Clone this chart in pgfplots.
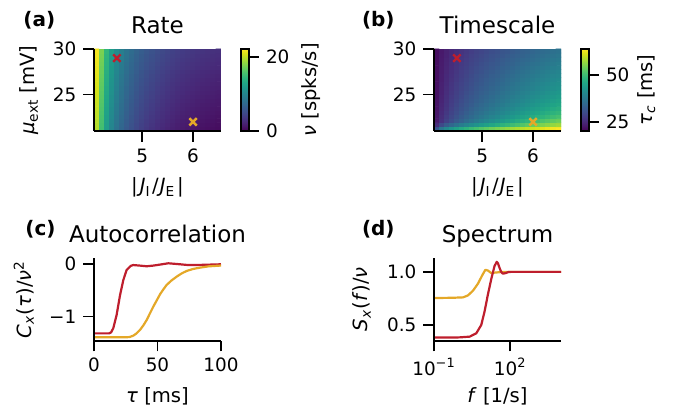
\documentclass[border=0pt]{standalone}
\usepackage{fontspec}
\setmainfont{DejaVu Sans}
\usepackage{pgfplots}
\pgfplotsset{compat=1.18}
\definecolor{cred}{RGB}{190,30,45}
\definecolor{cgold}{RGB}{228,168,40}
\newcommand\tickfont{\fontsize{9.2bp}{11bp}\selectfont}
\newcommand\labfont{\fontsize{9.8bp}{12bp}\selectfont}
\newcommand\titfont{\fontsize{11.5bp}{14bp}\selectfont}
\newcommand\jratio{|\hspace{0.1em}\textit{J}\textsubscript{I}\hspace{0.08em}/\hspace{0.05em}\textit{J}\textsubscript{E}\hspace{0.1em}|}
\pgfplotsset{
  /pgf/number format/assume math mode=true,
  panel/.style={
    scale only axis, width=63.5bp, height=41bp,
    axis x line*=bottom, axis y line*=left,
    axis line style={-, line width=0.8bp},
    every tick/.style={black, line width=0.8bp},
    tick align=outside, major tick length=5.3bp,
    tick label style={font=\tickfont},
    every axis title/.style={font=\titfont, at={(0.5,1)}, anchor=base, yshift=7.7bp},
    every axis x label/.style={font=\labfont, at={(axis description cs:0.5,0)}, anchor=base, yshift=-31bp},
    axis on top,
  },
  ylab/.style={every axis y label/.style={font=\labfont, at={(axis description cs:#1,0.5)}, rotate=90, anchor=base}},
  cbar/.style={
    colorbar shift/.style={},
    colorbar style={
      at={(parent axis.north east)}, anchor=north west, xshift=10bp,
      scale only axis, width=4bp, height=41bp,
      axis line style={line width=0.65bp},
      ytick pos=right, yticklabel pos=right,
      tick align=outside, major tick length=5bp,
      every tick/.style={black, line width=0.8bp},
      tick label style={font=\tickfont},
      #1
    },
  },
}
\begin{document}
\begin{tikzpicture}
\useasboundingbox (0,0) rectangle (337.5bp,205.5bp);

% (a) rate heatmap
\begin{axis}[panel, at={(47bp,140bp)}, anchor=south west,
  xmin=4.05, xmax=6.55, ymin=21, ymax=30,
  xtick={5,6}, ytick={25,30},
  title={Rate},
  xlabel={\jratio},
  ylabel={\textit{μ}\textsubscript{ext} [mV]}, ylab=-0.465,
  colormap/viridis, point meta min=0, point meta max=22.2,
  colorbar, cbar={ytick={0,20}, ylabel={\textit{ν} [spks/s]}, ylab=9.4},
]
\addplot[matrix plot*, mesh/cols=25, point meta=explicit] table[row sep=\\, meta index=2]{
4.1 21.23 19.66\\4.2 21.23 15.46\\4.3 21.23 12.26\\4.4 21.23 10.06\\4.5 21.23 8.46\\4.6 21.23 7.26\\4.7 21.23 6.26\\4.8 21.23 5.46\\4.9 21.23 4.76\\5.0 21.23 4.16\\5.1 21.23 3.66\\5.2 21.23 3.26\\5.3 21.23 2.86\\5.4 21.23 2.56\\5.5 21.23 2.26\\5.6 21.23 2.01\\5.7 21.23 1.76\\5.8 21.23 1.56\\5.9 21.23 1.41\\6.0 21.23 1.26\\6.1 21.23 1.11\\6.2 21.23 1.01\\6.3 21.23 0.91\\6.4 21.23 0.81\\6.5 21.23 0.71\\
4.1 21.68 19.78\\4.2 21.68 15.58\\4.3 21.68 12.38\\4.4 21.68 10.18\\4.5 21.68 8.58\\4.6 21.68 7.38\\4.7 21.68 6.38\\4.8 21.68 5.58\\4.9 21.68 4.88\\5.0 21.68 4.28\\5.1 21.68 3.78\\5.2 21.68 3.38\\5.3 21.68 2.98\\5.4 21.68 2.68\\5.5 21.68 2.38\\5.6 21.68 2.13\\5.7 21.68 1.88\\5.8 21.68 1.68\\5.9 21.68 1.53\\6.0 21.68 1.38\\6.1 21.68 1.23\\6.2 21.68 1.13\\6.3 21.68 1.03\\6.4 21.68 0.93\\6.5 21.68 0.83\\
4.1 22.13 19.90\\4.2 22.13 15.70\\4.3 22.13 12.50\\4.4 22.13 10.30\\4.5 22.13 8.70\\4.6 22.13 7.50\\4.7 22.13 6.50\\4.8 22.13 5.70\\4.9 22.13 5.00\\5.0 22.13 4.40\\5.1 22.13 3.90\\5.2 22.13 3.50\\5.3 22.13 3.10\\5.4 22.13 2.80\\5.5 22.13 2.50\\5.6 22.13 2.25\\5.7 22.13 2.00\\5.8 22.13 1.80\\5.9 22.13 1.65\\6.0 22.13 1.50\\6.1 22.13 1.35\\6.2 22.13 1.25\\6.3 22.13 1.15\\6.4 22.13 1.05\\6.5 22.13 0.95\\
4.1 22.58 20.02\\4.2 22.58 15.82\\4.3 22.58 12.62\\4.4 22.58 10.42\\4.5 22.58 8.82\\4.6 22.58 7.62\\4.7 22.58 6.62\\4.8 22.58 5.82\\4.9 22.58 5.12\\5.0 22.58 4.52\\5.1 22.58 4.02\\5.2 22.58 3.62\\5.3 22.58 3.22\\5.4 22.58 2.92\\5.5 22.58 2.62\\5.6 22.58 2.37\\5.7 22.58 2.12\\5.8 22.58 1.92\\5.9 22.58 1.77\\6.0 22.58 1.62\\6.1 22.58 1.47\\6.2 22.58 1.37\\6.3 22.58 1.27\\6.4 22.58 1.17\\6.5 22.58 1.07\\
4.1 23.03 20.14\\4.2 23.03 15.94\\4.3 23.03 12.74\\4.4 23.03 10.54\\4.5 23.03 8.94\\4.6 23.03 7.74\\4.7 23.03 6.74\\4.8 23.03 5.94\\4.9 23.03 5.24\\5.0 23.03 4.64\\5.1 23.03 4.14\\5.2 23.03 3.74\\5.3 23.03 3.34\\5.4 23.03 3.04\\5.5 23.03 2.74\\5.6 23.03 2.49\\5.7 23.03 2.24\\5.8 23.03 2.04\\5.9 23.03 1.89\\6.0 23.03 1.74\\6.1 23.03 1.59\\6.2 23.03 1.49\\6.3 23.03 1.39\\6.4 23.03 1.29\\6.5 23.03 1.19\\
4.1 23.48 20.26\\4.2 23.48 16.06\\4.3 23.48 12.86\\4.4 23.48 10.66\\4.5 23.48 9.06\\4.6 23.48 7.86\\4.7 23.48 6.86\\4.8 23.48 6.06\\4.9 23.48 5.36\\5.0 23.48 4.76\\5.1 23.48 4.26\\5.2 23.48 3.86\\5.3 23.48 3.46\\5.4 23.48 3.16\\5.5 23.48 2.86\\5.6 23.48 2.61\\5.7 23.48 2.36\\5.8 23.48 2.16\\5.9 23.48 2.01\\6.0 23.48 1.86\\6.1 23.48 1.71\\6.2 23.48 1.61\\6.3 23.48 1.51\\6.4 23.48 1.41\\6.5 23.48 1.31\\
4.1 23.93 20.38\\4.2 23.93 16.18\\4.3 23.93 12.98\\4.4 23.93 10.78\\4.5 23.93 9.18\\4.6 23.93 7.98\\4.7 23.93 6.98\\4.8 23.93 6.18\\4.9 23.93 5.48\\5.0 23.93 4.88\\5.1 23.93 4.38\\5.2 23.93 3.98\\5.3 23.93 3.58\\5.4 23.93 3.28\\5.5 23.93 2.98\\5.6 23.93 2.73\\5.7 23.93 2.48\\5.8 23.93 2.28\\5.9 23.93 2.13\\6.0 23.93 1.98\\6.1 23.93 1.83\\6.2 23.93 1.73\\6.3 23.93 1.63\\6.4 23.93 1.53\\6.5 23.93 1.43\\
4.1 24.38 20.50\\4.2 24.38 16.30\\4.3 24.38 13.10\\4.4 24.38 10.90\\4.5 24.38 9.30\\4.6 24.38 8.10\\4.7 24.38 7.10\\4.8 24.38 6.30\\4.9 24.38 5.60\\5.0 24.38 5.00\\5.1 24.38 4.50\\5.2 24.38 4.10\\5.3 24.38 3.70\\5.4 24.38 3.40\\5.5 24.38 3.10\\5.6 24.38 2.85\\5.7 24.38 2.60\\5.8 24.38 2.40\\5.9 24.38 2.25\\6.0 24.38 2.10\\6.1 24.38 1.95\\6.2 24.38 1.85\\6.3 24.38 1.75\\6.4 24.38 1.65\\6.5 24.38 1.55\\
4.1 24.83 20.62\\4.2 24.83 16.42\\4.3 24.83 13.22\\4.4 24.83 11.02\\4.5 24.83 9.42\\4.6 24.83 8.22\\4.7 24.83 7.22\\4.8 24.83 6.42\\4.9 24.83 5.72\\5.0 24.83 5.12\\5.1 24.83 4.62\\5.2 24.83 4.22\\5.3 24.83 3.82\\5.4 24.83 3.52\\5.5 24.83 3.22\\5.6 24.83 2.97\\5.7 24.83 2.72\\5.8 24.83 2.52\\5.9 24.83 2.37\\6.0 24.83 2.22\\6.1 24.83 2.07\\6.2 24.83 1.97\\6.3 24.83 1.87\\6.4 24.83 1.77\\6.5 24.83 1.67\\
4.1 25.28 20.74\\4.2 25.28 16.54\\4.3 25.28 13.34\\4.4 25.28 11.14\\4.5 25.28 9.54\\4.6 25.28 8.34\\4.7 25.28 7.34\\4.8 25.28 6.54\\4.9 25.28 5.84\\5.0 25.28 5.24\\5.1 25.28 4.74\\5.2 25.28 4.34\\5.3 25.28 3.94\\5.4 25.28 3.64\\5.5 25.28 3.34\\5.6 25.28 3.09\\5.7 25.28 2.84\\5.8 25.28 2.64\\5.9 25.28 2.49\\6.0 25.28 2.34\\6.1 25.28 2.19\\6.2 25.28 2.09\\6.3 25.28 1.99\\6.4 25.28 1.89\\6.5 25.28 1.79\\
4.1 25.73 20.86\\4.2 25.73 16.66\\4.3 25.73 13.46\\4.4 25.73 11.26\\4.5 25.73 9.66\\4.6 25.73 8.46\\4.7 25.73 7.46\\4.8 25.73 6.66\\4.9 25.73 5.96\\5.0 25.73 5.36\\5.1 25.73 4.86\\5.2 25.73 4.46\\5.3 25.73 4.06\\5.4 25.73 3.76\\5.5 25.73 3.46\\5.6 25.73 3.21\\5.7 25.73 2.96\\5.8 25.73 2.76\\5.9 25.73 2.61\\6.0 25.73 2.46\\6.1 25.73 2.31\\6.2 25.73 2.21\\6.3 25.73 2.11\\6.4 25.73 2.01\\6.5 25.73 1.91\\
4.1 26.18 20.98\\4.2 26.18 16.78\\4.3 26.18 13.58\\4.4 26.18 11.38\\4.5 26.18 9.78\\4.6 26.18 8.58\\4.7 26.18 7.58\\4.8 26.18 6.78\\4.9 26.18 6.08\\5.0 26.18 5.48\\5.1 26.18 4.98\\5.2 26.18 4.58\\5.3 26.18 4.18\\5.4 26.18 3.88\\5.5 26.18 3.58\\5.6 26.18 3.33\\5.7 26.18 3.08\\5.8 26.18 2.88\\5.9 26.18 2.73\\6.0 26.18 2.58\\6.1 26.18 2.43\\6.2 26.18 2.33\\6.3 26.18 2.23\\6.4 26.18 2.13\\6.5 26.18 2.03\\
4.1 26.63 21.10\\4.2 26.63 16.90\\4.3 26.63 13.70\\4.4 26.63 11.50\\4.5 26.63 9.90\\4.6 26.63 8.70\\4.7 26.63 7.70\\4.8 26.63 6.90\\4.9 26.63 6.20\\5.0 26.63 5.60\\5.1 26.63 5.10\\5.2 26.63 4.70\\5.3 26.63 4.30\\5.4 26.63 4.00\\5.5 26.63 3.70\\5.6 26.63 3.45\\5.7 26.63 3.20\\5.8 26.63 3.00\\5.9 26.63 2.85\\6.0 26.63 2.70\\6.1 26.63 2.55\\6.2 26.63 2.45\\6.3 26.63 2.35\\6.4 26.63 2.25\\6.5 26.63 2.15\\
4.1 27.08 21.22\\4.2 27.08 17.02\\4.3 27.08 13.82\\4.4 27.08 11.62\\4.5 27.08 10.02\\4.6 27.08 8.82\\4.7 27.08 7.82\\4.8 27.08 7.02\\4.9 27.08 6.32\\5.0 27.08 5.72\\5.1 27.08 5.22\\5.2 27.08 4.82\\5.3 27.08 4.42\\5.4 27.08 4.12\\5.5 27.08 3.82\\5.6 27.08 3.57\\5.7 27.08 3.32\\5.8 27.08 3.12\\5.9 27.08 2.97\\6.0 27.08 2.82\\6.1 27.08 2.67\\6.2 27.08 2.57\\6.3 27.08 2.47\\6.4 27.08 2.37\\6.5 27.08 2.27\\
4.1 27.53 21.34\\4.2 27.53 17.14\\4.3 27.53 13.94\\4.4 27.53 11.74\\4.5 27.53 10.14\\4.6 27.53 8.94\\4.7 27.53 7.94\\4.8 27.53 7.14\\4.9 27.53 6.44\\5.0 27.53 5.84\\5.1 27.53 5.34\\5.2 27.53 4.94\\5.3 27.53 4.54\\5.4 27.53 4.24\\5.5 27.53 3.94\\5.6 27.53 3.69\\5.7 27.53 3.44\\5.8 27.53 3.24\\5.9 27.53 3.09\\6.0 27.53 2.94\\6.1 27.53 2.79\\6.2 27.53 2.69\\6.3 27.53 2.59\\6.4 27.53 2.49\\6.5 27.53 2.39\\
4.1 27.98 21.46\\4.2 27.98 17.26\\4.3 27.98 14.06\\4.4 27.98 11.86\\4.5 27.98 10.26\\4.6 27.98 9.06\\4.7 27.98 8.06\\4.8 27.98 7.26\\4.9 27.98 6.56\\5.0 27.98 5.96\\5.1 27.98 5.46\\5.2 27.98 5.06\\5.3 27.98 4.66\\5.4 27.98 4.36\\5.5 27.98 4.06\\5.6 27.98 3.81\\5.7 27.98 3.56\\5.8 27.98 3.36\\5.9 27.98 3.21\\6.0 27.98 3.06\\6.1 27.98 2.91\\6.2 27.98 2.81\\6.3 27.98 2.71\\6.4 27.98 2.61\\6.5 27.98 2.51\\
4.1 28.43 21.58\\4.2 28.43 17.38\\4.3 28.43 14.18\\4.4 28.43 11.98\\4.5 28.43 10.38\\4.6 28.43 9.18\\4.7 28.43 8.18\\4.8 28.43 7.38\\4.9 28.43 6.68\\5.0 28.43 6.08\\5.1 28.43 5.58\\5.2 28.43 5.18\\5.3 28.43 4.78\\5.4 28.43 4.48\\5.5 28.43 4.18\\5.6 28.43 3.93\\5.7 28.43 3.68\\5.8 28.43 3.48\\5.9 28.43 3.33\\6.0 28.43 3.18\\6.1 28.43 3.03\\6.2 28.43 2.93\\6.3 28.43 2.83\\6.4 28.43 2.73\\6.5 28.43 2.63\\
4.1 28.88 21.70\\4.2 28.88 17.50\\4.3 28.88 14.30\\4.4 28.88 12.10\\4.5 28.88 10.50\\4.6 28.88 9.30\\4.7 28.88 8.30\\4.8 28.88 7.50\\4.9 28.88 6.80\\5.0 28.88 6.20\\5.1 28.88 5.70\\5.2 28.88 5.30\\5.3 28.88 4.90\\5.4 28.88 4.60\\5.5 28.88 4.30\\5.6 28.88 4.05\\5.7 28.88 3.80\\5.8 28.88 3.60\\5.9 28.88 3.45\\6.0 28.88 3.30\\6.1 28.88 3.15\\6.2 28.88 3.05\\6.3 28.88 2.95\\6.4 28.88 2.85\\6.5 28.88 2.75\\
4.1 29.33 21.82\\4.2 29.33 17.62\\4.3 29.33 14.42\\4.4 29.33 12.22\\4.5 29.33 10.62\\4.6 29.33 9.42\\4.7 29.33 8.42\\4.8 29.33 7.62\\4.9 29.33 6.92\\5.0 29.33 6.32\\5.1 29.33 5.82\\5.2 29.33 5.42\\5.3 29.33 5.02\\5.4 29.33 4.72\\5.5 29.33 4.42\\5.6 29.33 4.17\\5.7 29.33 3.92\\5.8 29.33 3.72\\5.9 29.33 3.57\\6.0 29.33 3.42\\6.1 29.33 3.27\\6.2 29.33 3.17\\6.3 29.33 3.07\\6.4 29.33 2.97\\6.5 29.33 2.87\\
4.1 29.78 21.94\\4.2 29.78 17.74\\4.3 29.78 14.54\\4.4 29.78 12.34\\4.5 29.78 10.74\\4.6 29.78 9.54\\4.7 29.78 8.54\\4.8 29.78 7.74\\4.9 29.78 7.04\\5.0 29.78 6.44\\5.1 29.78 5.94\\5.2 29.78 5.54\\5.3 29.78 5.14\\5.4 29.78 4.84\\5.5 29.78 4.54\\5.6 29.78 4.29\\5.7 29.78 4.04\\5.8 29.78 3.84\\5.9 29.78 3.69\\6.0 29.78 3.54\\6.1 29.78 3.39\\6.2 29.78 3.29\\6.3 29.78 3.19\\6.4 29.78 3.09\\6.5 29.78 2.99\\
};
\addplot[only marks, mark=x, mark size=2.6bp, line width=1.2bp, draw=cred] coordinates {(4.5,29)};
\addplot[only marks, mark=x, mark size=2.6bp, line width=1.2bp, draw=cgold] coordinates {(6,22)};
\end{axis}

% (b) timescale heatmap
\begin{axis}[panel, at={(217bp,140bp)}, anchor=south west,
  xmin=4.05, xmax=6.55, ymin=21, ymax=30,
  xtick={5,6}, ytick={25,30},
  title={Timescale},
  xlabel={\jratio},
  colormap/viridis, point meta min=20.2, point meta max=63.8,
  colorbar, cbar={ytick={25,50}, ylabel={\textit{τ}\textsubscript{\textit{c}} [ms]}, ylab=8.9},
]
\addplot[matrix plot*, mesh/cols=25, point meta=explicit] table[row sep=\\, meta index=2]{
4.1 21.23 32.1\\4.2 21.23 37.4\\4.3 21.23 40.6\\4.4 21.23 43.0\\4.5 21.23 45.0\\4.6 21.23 46.7\\4.7 21.23 48.2\\4.8 21.23 49.6\\4.9 21.23 50.8\\5.0 21.23 52.0\\5.1 21.23 53.0\\5.2 21.23 54.1\\5.3 21.23 55.0\\5.4 21.23 55.9\\5.5 21.23 56.7\\5.6 21.23 57.6\\5.7 21.23 58.4\\5.8 21.23 59.1\\5.9 21.23 59.9\\6.0 21.23 60.5\\6.1 21.23 61.2\\6.2 21.23 61.8\\6.3 21.23 62.5\\6.4 21.23 63.1\\6.5 21.23 63.7\\
4.1 21.68 25.8\\4.2 21.68 29.8\\4.3 21.68 32.5\\4.4 21.68 34.7\\4.5 21.68 36.6\\4.6 21.68 38.3\\4.7 21.68 39.8\\4.8 21.68 41.2\\4.9 21.68 42.6\\5.0 21.68 43.8\\5.1 21.68 44.9\\5.2 21.68 46.1\\5.3 21.68 47.1\\5.4 21.68 48.2\\5.5 21.68 49.1\\5.6 21.68 50.1\\5.7 21.68 51.0\\5.8 21.68 51.9\\5.9 21.68 52.8\\6.0 21.68 53.6\\6.1 21.68 54.4\\6.2 21.68 55.2\\6.3 21.68 56.0\\6.4 21.68 56.7\\6.5 21.68 57.5\\
4.1 22.13 23.3\\4.2 22.13 26.3\\4.3 22.13 28.6\\4.4 22.13 30.5\\4.5 22.13 32.2\\4.6 22.13 33.8\\4.7 22.13 35.3\\4.8 22.13 36.7\\4.9 22.13 38.0\\5.0 22.13 39.2\\5.1 22.13 40.4\\5.2 22.13 41.5\\5.3 22.13 42.6\\5.4 22.13 43.7\\5.5 22.13 44.7\\5.6 22.13 45.7\\5.7 22.13 46.8\\5.8 22.13 47.7\\5.9 22.13 48.6\\6.0 22.13 49.6\\6.1 22.13 50.5\\6.2 22.13 51.4\\6.3 22.13 52.2\\6.4 22.13 53.1\\6.5 22.13 53.9\\
4.1 22.58 23.0\\4.2 22.58 25.8\\4.3 22.58 27.8\\4.4 22.58 29.6\\4.5 22.58 31.1\\4.6 22.58 32.6\\4.7 22.58 33.9\\4.8 22.58 35.2\\4.9 22.58 36.4\\5.0 22.58 37.5\\5.1 22.58 38.5\\5.2 22.58 39.6\\5.3 22.58 40.6\\5.4 22.58 41.6\\5.5 22.58 42.5\\5.6 22.58 43.4\\5.7 22.58 44.4\\5.8 22.58 45.2\\5.9 22.58 46.1\\6.0 22.58 46.9\\6.1 22.58 47.8\\6.2 22.58 48.5\\6.3 22.58 49.3\\6.4 22.58 50.1\\6.5 22.58 50.9\\
4.1 23.03 22.8\\4.2 23.03 25.4\\4.3 23.03 27.3\\4.4 23.03 29.0\\4.5 23.03 30.4\\4.6 23.03 31.8\\4.7 23.03 33.0\\4.8 23.03 34.2\\4.9 23.03 35.4\\5.0 23.03 36.4\\5.1 23.03 37.4\\5.2 23.03 38.4\\5.3 23.03 39.3\\5.4 23.03 40.2\\5.5 23.03 41.1\\5.6 23.03 41.9\\5.7 23.03 42.8\\5.8 23.03 43.6\\5.9 23.03 44.4\\6.0 23.03 45.2\\6.1 23.03 46.0\\6.2 23.03 46.7\\6.3 23.03 47.5\\6.4 23.03 48.2\\6.5 23.03 48.9\\
4.1 23.48 22.6\\4.2 23.48 25.1\\4.3 23.48 26.9\\4.4 23.48 28.5\\4.5 23.48 29.9\\4.6 23.48 31.2\\4.7 23.48 32.3\\4.8 23.48 33.5\\4.9 23.48 34.6\\5.0 23.48 35.5\\5.1 23.48 36.4\\5.2 23.48 37.4\\5.3 23.48 38.3\\5.4 23.48 39.2\\5.5 23.48 40.0\\5.6 23.48 40.8\\5.7 23.48 41.6\\5.8 23.48 42.4\\5.9 23.48 43.1\\6.0 23.48 43.9\\6.1 23.48 44.6\\6.2 23.48 45.3\\6.3 23.48 46.0\\6.4 23.48 46.7\\6.5 23.48 47.4\\
4.1 23.93 22.5\\4.2 23.93 24.9\\4.3 23.93 26.6\\4.4 23.93 28.1\\4.5 23.93 29.4\\4.6 23.93 30.6\\4.7 23.93 31.8\\4.8 23.93 32.8\\4.9 23.93 33.9\\5.0 23.93 34.8\\5.1 23.93 35.7\\5.2 23.93 36.6\\5.3 23.93 37.4\\5.4 23.93 38.2\\5.5 23.93 39.0\\5.6 23.93 39.8\\5.7 23.93 40.6\\5.8 23.93 41.3\\5.9 23.93 42.0\\6.0 23.93 42.7\\6.1 23.93 43.5\\6.2 23.93 44.1\\6.3 23.93 44.8\\6.4 23.93 45.4\\6.5 23.93 46.1\\
4.1 24.38 22.4\\4.2 24.38 24.7\\4.3 24.38 26.3\\4.4 24.38 27.8\\4.5 24.38 29.0\\4.6 24.38 30.2\\4.7 24.38 31.3\\4.8 24.38 32.3\\4.9 24.38 33.3\\5.0 24.38 34.1\\5.1 24.38 35.0\\5.2 24.38 35.9\\5.3 24.38 36.7\\5.4 24.38 37.5\\5.5 24.38 38.2\\5.6 24.38 39.0\\5.7 24.38 39.7\\5.8 24.38 40.4\\5.9 24.38 41.1\\6.0 24.38 41.8\\6.1 24.38 42.5\\6.2 24.38 43.1\\6.3 24.38 43.7\\6.4 24.38 44.4\\6.5 24.38 45.0\\
4.1 24.83 22.3\\4.2 24.83 24.5\\4.3 24.83 26.1\\4.4 24.83 27.5\\4.5 24.83 28.7\\4.6 24.83 29.8\\4.7 24.83 30.9\\4.8 24.83 31.9\\4.9 24.83 32.8\\5.0 24.83 33.7\\5.1 24.83 34.5\\5.2 24.83 35.3\\5.3 24.83 36.1\\5.4 24.83 36.9\\5.5 24.83 37.6\\5.6 24.83 38.3\\5.7 24.83 39.0\\5.8 24.83 39.7\\5.9 24.83 40.4\\6.0 24.83 41.0\\6.1 24.83 41.7\\6.2 24.83 42.3\\6.3 24.83 42.9\\6.4 24.83 43.5\\6.5 24.83 44.1\\
4.1 25.28 22.2\\4.2 25.28 24.3\\4.3 25.28 25.9\\4.4 25.28 27.2\\4.5 25.28 28.4\\4.6 25.28 29.5\\4.7 25.28 30.5\\4.8 25.28 31.4\\4.9 25.28 32.4\\5.0 25.28 33.2\\5.1 25.28 34.0\\5.2 25.28 34.8\\5.3 25.28 35.5\\5.4 25.28 36.3\\5.5 25.28 37.0\\5.6 25.28 37.7\\5.7 25.28 38.4\\5.8 25.28 39.0\\5.9 25.28 39.6\\6.0 25.28 40.3\\6.1 25.28 40.9\\6.2 25.28 41.5\\6.3 25.28 42.1\\6.4 25.28 42.7\\6.5 25.28 43.3\\
4.1 25.73 22.2\\4.2 25.73 24.2\\4.3 25.73 25.7\\4.4 25.73 27.0\\4.5 25.73 28.1\\4.6 25.73 29.1\\4.7 25.73 30.1\\4.8 25.73 31.0\\4.9 25.73 31.9\\5.0 25.73 32.7\\5.1 25.73 33.4\\5.2 25.73 34.2\\5.3 25.73 34.9\\5.4 25.73 35.7\\5.5 25.73 36.3\\5.6 25.73 37.0\\5.7 25.73 37.7\\5.8 25.73 38.3\\5.9 25.73 38.9\\6.0 25.73 39.5\\6.1 25.73 40.1\\6.2 25.73 40.7\\6.3 25.73 41.3\\6.4 25.73 41.8\\6.5 25.73 42.4\\
4.1 26.18 22.1\\4.2 26.18 24.1\\4.3 26.18 25.5\\4.4 26.18 26.8\\4.5 26.18 27.9\\4.6 26.18 28.9\\4.7 26.18 29.8\\4.8 26.18 30.7\\4.9 26.18 31.6\\5.0 26.18 32.3\\5.1 26.18 33.1\\5.2 26.18 33.8\\5.3 26.18 34.5\\5.4 26.18 35.2\\5.5 26.18 35.9\\5.6 26.18 36.5\\5.7 26.18 37.2\\5.8 26.18 37.8\\5.9 26.18 38.4\\6.0 26.18 39.0\\6.1 26.18 39.6\\6.2 26.18 40.1\\6.3 26.18 40.7\\6.4 26.18 41.2\\6.5 26.18 41.8\\
4.1 26.63 22.0\\4.2 26.63 23.9\\4.3 26.63 25.3\\4.4 26.63 26.5\\4.5 26.63 27.6\\4.6 26.63 28.6\\4.7 26.63 29.5\\4.8 26.63 30.4\\4.9 26.63 31.2\\5.0 26.63 31.9\\5.1 26.63 32.7\\5.2 26.63 33.4\\5.3 26.63 34.1\\5.4 26.63 34.7\\5.5 26.63 35.4\\5.6 26.63 36.0\\5.7 26.63 36.6\\5.8 26.63 37.2\\5.9 26.63 37.8\\6.0 26.63 38.4\\6.1 26.63 39.0\\6.2 26.63 39.5\\6.3 26.63 40.0\\6.4 26.63 40.6\\6.5 26.63 41.1\\
4.1 27.08 22.0\\4.2 27.08 23.8\\4.3 27.08 25.2\\4.4 27.08 26.3\\4.5 27.08 27.4\\4.6 27.08 28.3\\4.7 27.08 29.2\\4.8 27.08 30.1\\4.9 27.08 30.9\\5.0 27.08 31.6\\5.1 27.08 32.3\\5.2 27.08 33.0\\5.3 27.08 33.6\\5.4 27.08 34.3\\5.5 27.08 34.9\\5.6 27.08 35.5\\5.7 27.08 36.1\\5.8 27.08 36.7\\5.9 27.08 37.2\\6.0 27.08 37.8\\6.1 27.08 38.4\\6.2 27.08 38.9\\6.3 27.08 39.4\\6.4 27.08 39.9\\6.5 27.08 40.4\\
4.1 27.53 21.9\\4.2 27.53 23.7\\4.3 27.53 25.0\\4.4 27.53 26.1\\4.5 27.53 27.1\\4.6 27.53 28.1\\4.7 27.53 28.9\\4.8 27.53 29.7\\4.9 27.53 30.5\\5.0 27.53 31.2\\5.1 27.53 31.9\\5.2 27.53 32.6\\5.3 27.53 33.2\\5.4 27.53 33.8\\5.5 27.53 34.4\\5.6 27.53 35.0\\5.7 27.53 35.6\\5.8 27.53 36.2\\5.9 27.53 36.7\\6.0 27.53 37.2\\6.1 27.53 37.8\\6.2 27.53 38.3\\6.3 27.53 38.8\\6.4 27.53 39.3\\6.5 27.53 39.8\\
4.1 27.98 21.8\\4.2 27.98 23.6\\4.3 27.98 24.8\\4.4 27.98 25.9\\4.5 27.98 26.9\\4.6 27.98 27.8\\4.7 27.98 28.6\\4.8 27.98 29.4\\4.9 27.98 30.2\\5.0 27.98 30.8\\5.1 27.98 31.5\\5.2 27.98 32.1\\5.3 27.98 32.8\\5.4 27.98 33.4\\5.5 27.98 33.9\\5.6 27.98 34.5\\5.7 27.98 35.1\\5.8 27.98 35.6\\5.9 27.98 36.1\\6.0 27.98 36.7\\6.1 27.98 37.2\\6.2 27.98 37.7\\6.3 27.98 38.2\\6.4 27.98 38.7\\6.5 27.98 39.1\\
4.1 28.43 21.8\\4.2 28.43 23.4\\4.3 28.43 24.7\\4.4 28.43 25.7\\4.5 28.43 26.7\\4.6 28.43 27.5\\4.7 28.43 28.3\\4.8 28.43 29.1\\4.9 28.43 29.8\\5.0 28.43 30.5\\5.1 28.43 31.1\\5.2 28.43 31.7\\5.3 28.43 32.3\\5.4 28.43 32.9\\5.5 28.43 33.5\\5.6 28.43 34.0\\5.7 28.43 34.6\\5.8 28.43 35.1\\5.9 28.43 35.6\\6.0 28.43 36.1\\6.1 28.43 36.6\\6.2 28.43 37.1\\6.3 28.43 37.6\\6.4 28.43 38.0\\6.5 28.43 38.5\\
4.1 28.88 21.7\\4.2 28.88 23.3\\4.3 28.88 24.5\\4.4 28.88 25.5\\4.5 28.88 26.4\\4.6 28.88 27.3\\4.7 28.88 28.0\\4.8 28.88 28.8\\4.9 28.88 29.5\\5.0 28.88 30.1\\5.1 28.88 30.7\\5.2 28.88 31.3\\5.3 28.88 31.9\\5.4 28.88 32.5\\5.5 28.88 33.0\\5.6 28.88 33.5\\5.7 28.88 34.1\\5.8 28.88 34.6\\5.9 28.88 35.0\\6.0 28.88 35.5\\6.1 28.88 36.0\\6.2 28.88 36.5\\6.3 28.88 36.9\\6.4 28.88 37.4\\6.5 28.88 37.8\\
4.1 29.33 21.7\\4.2 29.33 23.2\\4.3 29.33 24.3\\4.4 29.33 25.3\\4.5 29.33 26.2\\4.6 29.33 27.0\\4.7 29.33 27.7\\4.8 29.33 28.5\\4.9 29.33 29.1\\5.0 29.33 29.7\\5.1 29.33 30.3\\5.2 29.33 30.9\\5.3 29.33 31.5\\5.4 29.33 32.0\\5.5 29.33 32.5\\5.6 29.33 33.0\\5.7 29.33 33.5\\5.8 29.33 34.0\\5.9 29.33 34.5\\6.0 29.33 35.0\\6.1 29.33 35.4\\6.2 29.33 35.9\\6.3 29.33 36.3\\6.4 29.33 36.7\\6.5 29.33 37.2\\
4.1 29.78 21.6\\4.2 29.78 23.1\\4.3 29.78 24.2\\4.4 29.78 25.1\\4.5 29.78 26.0\\4.6 29.78 26.7\\4.7 29.78 27.4\\4.8 29.78 28.1\\4.9 29.78 28.8\\5.0 29.78 29.3\\5.1 29.78 29.9\\5.2 29.78 30.5\\5.3 29.78 31.0\\5.4 29.78 31.6\\5.5 29.78 32.0\\5.6 29.78 32.5\\5.7 29.78 33.0\\5.8 29.78 33.5\\5.9 29.78 33.9\\6.0 29.78 34.4\\6.1 29.78 34.9\\6.2 29.78 35.3\\6.3 29.78 35.7\\6.4 29.78 36.1\\6.5 29.78 36.5\\
};
\addplot[only marks, mark=x, mark size=2.6bp, line width=1.2bp, draw=cred] coordinates {(4.5,29)};
\addplot[only marks, mark=x, mark size=2.6bp, line width=1.2bp, draw=cgold] coordinates {(6,22)};
\end{axis}

% (c) autocorrelation
\begin{axis}[panel, at={(47bp,35.15bp)}, anchor=south west, height=41.35bp,
  xmin=0, xmax=100, ymin=-1.46, ymax=0.12,
  xtick={0,50,100}, ytick={-1,0}, yticklabels={−1,0},
  title={Autocorrelation},
  xlabel={\textit{τ} [ms]},
  ylabel={\textit{C}\textsubscript{\textit{x}}(\textit{τ})/\textit{ν}\textsuperscript{2}}, ylab=-0.496,
  clip=false,
]
\addplot[cred, line width=1.1bp, line join=round] coordinates {
  (0,-1.32)(12,-1.32)(13.5,-1.30)(15.2,-1.22)(17.8,-0.97)(20.5,-0.59)(23.1,-0.30)(25.7,-0.11)(28.9,-0.03)(31,-0.015)(36,-0.025)(41.5,-0.038)(46.7,-0.025)(52,-0.006)(58.5,0.019)(65,0.006)(73,-0.012)(83.5,-0.012)(100,0)};
\addplot[cgold, line width=1.1bp, line join=round] coordinates {
  (0,-1.395)(25,-1.395)(28,-1.39)(31,-1.363)(33.5,-1.32)(36.2,-1.255)(38.8,-1.17)(41.5,-1.064)(44,-0.94)(46.7,-0.809)(49.4,-0.69)(52,-0.573)(54.6,-0.48)(57.2,-0.395)(61,-0.31)(65.1,-0.236)(69,-0.175)(73,-0.127)(78,-0.09)(83.5,-0.064)(90,-0.04)(100,-0.024)};
\end{axis}

% (d) spectrum
\begin{axis}[panel, at={(217bp,35.15bp)}, anchor=south west, height=41.35bp,
  xmode=log, xmin=0.1, xmax=10000, ymin=0.355, ymax=1.13,
  xtick={0.1,100}, xticklabels={10\textsuperscript{−1},10\textsuperscript{2}}, xminorticks=false,
  ytick={0.5,1.0}, yticklabels={0.5,1.0},
  title={Spectrum},
  xlabel={\textit{f} [1/s]},
  ylabel={\textit{S}\textsubscript{\textit{x}}(\textit{f})/\textit{ν}}, ylab=-0.52,
  clip=false,
]
\addplot[cgold, line width=1.1bp, line join=round] coordinates {
  (0.1,0.755)(0.5,0.757)(1.4,0.761)(2.19,0.78)(3.44,0.824)(5.39,0.89)(7.98,0.969)(10.5,1.019)(13.2,1.013)(17.8,0.99)(28,0.994)(51,1.0)(1000,1.0)(10000,1.0)};
\addplot[cred, line width=1.1bp, line join=round] coordinates {
  (0.1,0.384)(1,0.386)(2.55,0.393)(4.64,0.425)(7.27,0.503)(9.8,0.629)(13.2,0.786)(17.8,0.928)(24,1.053)(29.5,1.094)(33,1.08)(38,1.038)(44,1.0)(51,0.984)(60,0.986)(69,0.99)(85,0.998)(107,1.0)(1000,1.0)(10000,1.0)};
\end{axis}

\node[inner sep=0, anchor=base west, font=\bfseries\fontsize{10bp}{12bp}\selectfont] at (11.5bp,192.2bp) {(a)};
\node[inner sep=0, anchor=base west, font=\bfseries\fontsize{10bp}{12bp}\selectfont] at (180.8bp,192.2bp) {(b)};
\node[inner sep=0, anchor=base west, font=\bfseries\fontsize{10bp}{12bp}\selectfont] at (12.5bp,87.5bp) {(c)};
\node[inner sep=0, anchor=base west, font=\bfseries\fontsize{10bp}{12bp}\selectfont] at (180.8bp,87.5bp) {(d)};
\end{tikzpicture}
\end{document}
